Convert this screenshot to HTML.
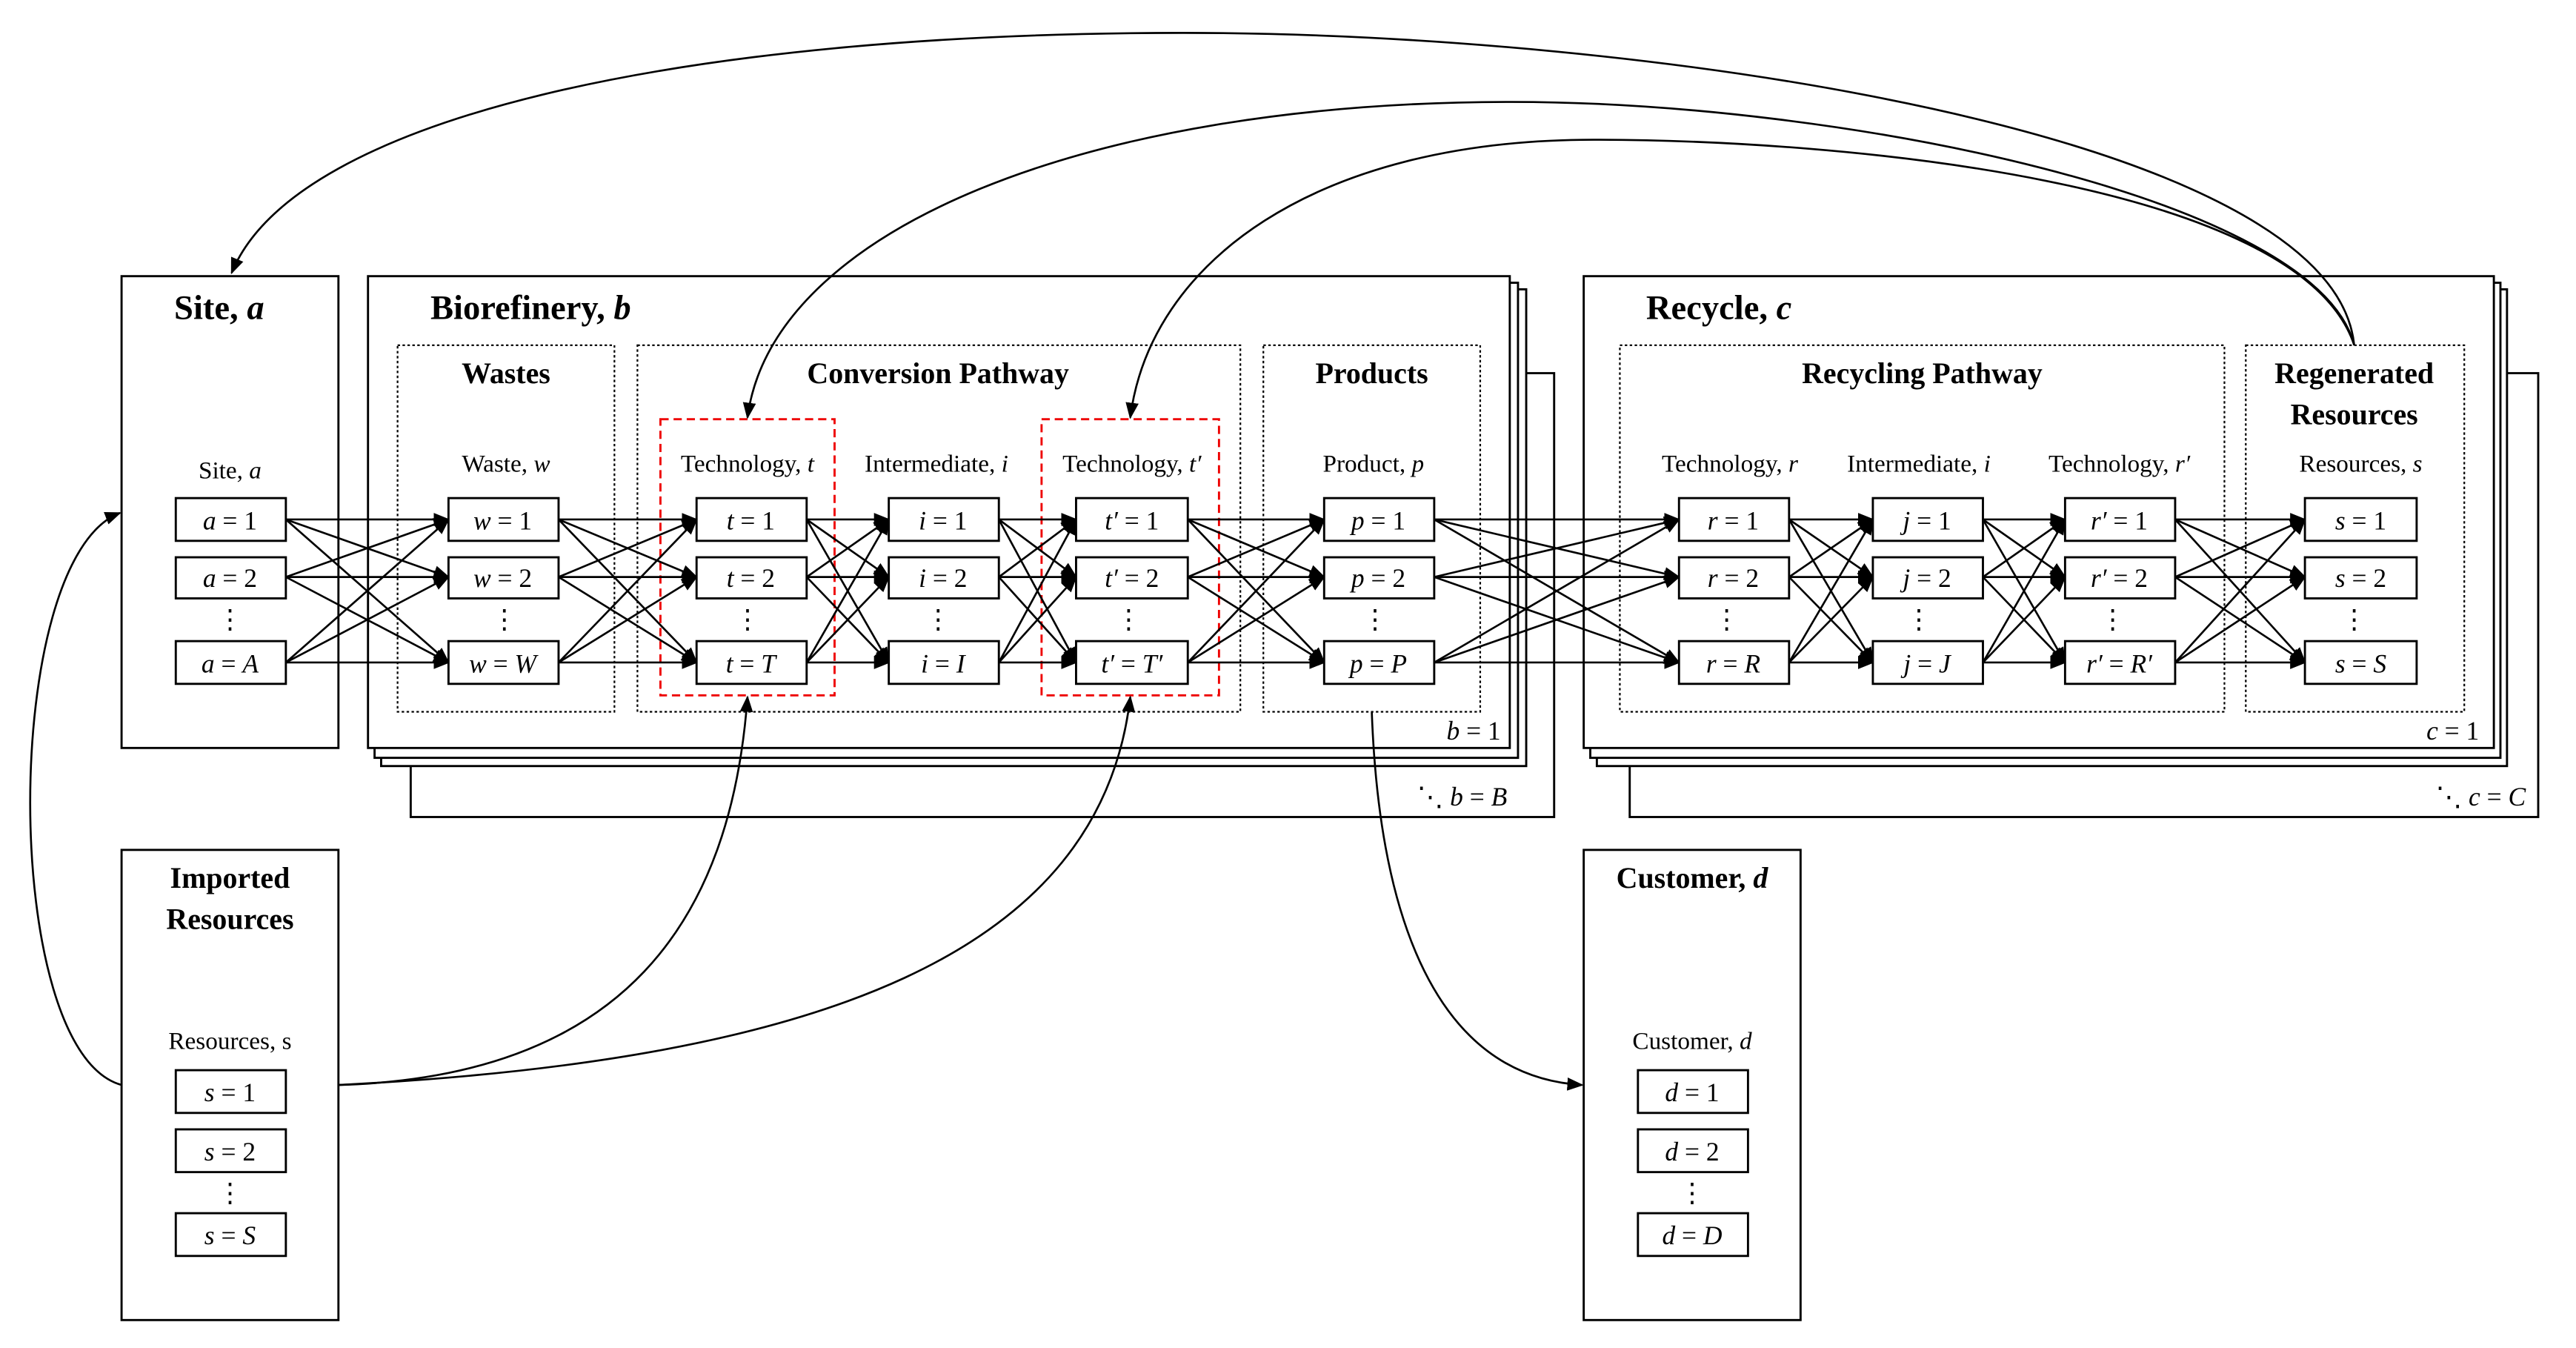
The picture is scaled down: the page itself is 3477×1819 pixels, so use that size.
<!DOCTYPE html>
<html><head><meta charset="utf-8"><style>
html,body{margin:0;padding:0;background:#fff;}
svg{display:block;}
text{font-family:"Liberation Serif",serif;fill:#000;}
.t{font-weight:bold;font-size:21px;}
.h{font-weight:bold;font-size:18px;text-anchor:middle;}
.l{font-size:15px;text-anchor:middle;}
.n{font-size:16px;text-anchor:middle;}
.i{font-style:italic;}
</style></head><body>
<svg width="3477" height="1819" viewBox="0 0 1568 820" preserveAspectRatio="none" xmlns="http://www.w3.org/2000/svg">
<defs>
<marker id="a" markerUnits="userSpaceOnUse" markerWidth="10" markerHeight="8" refX="9" refY="4" orient="auto"><path d="M0,0 L10,4 L0,8 z" fill="#000"/></marker>
</defs>
<g fill="#fff" stroke="#000" stroke-width="1.3">
<rect x="250" y="227" width="696" height="270"/>
<rect x="232" y="176" width="697" height="290"/>
<rect x="228" y="172" width="696" height="289"/>
<rect x="224" y="168" width="695" height="287"/>
<rect x="992" y="227" width="553" height="270"/>
<rect x="972" y="176" width="554" height="290"/>
<rect x="968" y="172" width="554" height="289"/>
<rect x="964" y="168" width="554" height="287"/>
<rect x="74" y="168" width="132" height="287"/>
<rect x="74" y="517" width="132" height="286"/>
<rect x="964" y="517" width="132" height="286"/>
</g>
<g fill="none" stroke="#000" stroke-width="1" stroke-dasharray="1.5,1.5">
<rect x="242" y="210" width="132" height="223"/>
<rect x="388" y="210" width="367" height="223"/>
<rect x="769" y="210" width="132" height="223"/>
<rect x="986" y="210" width="368" height="223"/>
<rect x="1367" y="210" width="133" height="223"/>
</g>
<g fill="none" stroke="#e00" stroke-width="1.3" stroke-dasharray="5,3">
<rect x="402" y="255" width="106" height="168"/>
<rect x="634" y="255" width="108" height="168"/>
</g>
<g stroke="#000" stroke-width="1.2" marker-end="url(#a)">
<line x1="174" y1="316" x2="273" y2="316"/><line x1="174" y1="316" x2="273" y2="351"/><line x1="174" y1="316" x2="273" y2="403"/>
<line x1="174" y1="351" x2="273" y2="316"/><line x1="174" y1="351" x2="273" y2="351"/><line x1="174" y1="351" x2="273" y2="403"/>
<line x1="174" y1="403" x2="273" y2="316"/><line x1="174" y1="403" x2="273" y2="351"/><line x1="174" y1="403" x2="273" y2="403"/>
<line x1="340" y1="316" x2="424" y2="316"/><line x1="340" y1="316" x2="424" y2="351"/><line x1="340" y1="316" x2="424" y2="403"/>
<line x1="340" y1="351" x2="424" y2="316"/><line x1="340" y1="351" x2="424" y2="351"/><line x1="340" y1="351" x2="424" y2="403"/>
<line x1="340" y1="403" x2="424" y2="316"/><line x1="340" y1="403" x2="424" y2="351"/><line x1="340" y1="403" x2="424" y2="403"/>
<line x1="491" y1="316" x2="541" y2="316"/><line x1="491" y1="316" x2="541" y2="351"/><line x1="491" y1="316" x2="541" y2="403"/>
<line x1="491" y1="351" x2="541" y2="316"/><line x1="491" y1="351" x2="541" y2="351"/><line x1="491" y1="351" x2="541" y2="403"/>
<line x1="491" y1="403" x2="541" y2="316"/><line x1="491" y1="403" x2="541" y2="351"/><line x1="491" y1="403" x2="541" y2="403"/>
<line x1="608" y1="316" x2="655" y2="316"/><line x1="608" y1="316" x2="655" y2="351"/><line x1="608" y1="316" x2="655" y2="403"/>
<line x1="608" y1="351" x2="655" y2="316"/><line x1="608" y1="351" x2="655" y2="351"/><line x1="608" y1="351" x2="655" y2="403"/>
<line x1="608" y1="403" x2="655" y2="316"/><line x1="608" y1="403" x2="655" y2="351"/><line x1="608" y1="403" x2="655" y2="403"/>
<line x1="723" y1="316" x2="806" y2="316"/><line x1="723" y1="316" x2="806" y2="351"/><line x1="723" y1="316" x2="806" y2="403"/>
<line x1="723" y1="351" x2="806" y2="316"/><line x1="723" y1="351" x2="806" y2="351"/><line x1="723" y1="351" x2="806" y2="403"/>
<line x1="723" y1="403" x2="806" y2="316"/><line x1="723" y1="403" x2="806" y2="351"/><line x1="723" y1="403" x2="806" y2="403"/>
<line x1="873" y1="316" x2="1022" y2="316"/><line x1="873" y1="316" x2="1022" y2="351"/><line x1="873" y1="316" x2="1022" y2="403"/>
<line x1="873" y1="351" x2="1022" y2="316"/><line x1="873" y1="351" x2="1022" y2="351"/><line x1="873" y1="351" x2="1022" y2="403"/>
<line x1="873" y1="403" x2="1022" y2="316"/><line x1="873" y1="403" x2="1022" y2="351"/><line x1="873" y1="403" x2="1022" y2="403"/>
<line x1="1089" y1="316" x2="1140" y2="316"/><line x1="1089" y1="316" x2="1140" y2="351"/><line x1="1089" y1="316" x2="1140" y2="403"/>
<line x1="1089" y1="351" x2="1140" y2="316"/><line x1="1089" y1="351" x2="1140" y2="351"/><line x1="1089" y1="351" x2="1140" y2="403"/>
<line x1="1089" y1="403" x2="1140" y2="316"/><line x1="1089" y1="403" x2="1140" y2="351"/><line x1="1089" y1="403" x2="1140" y2="403"/>
<line x1="1207" y1="316" x2="1257" y2="316"/><line x1="1207" y1="316" x2="1257" y2="351"/><line x1="1207" y1="316" x2="1257" y2="403"/>
<line x1="1207" y1="351" x2="1257" y2="316"/><line x1="1207" y1="351" x2="1257" y2="351"/><line x1="1207" y1="351" x2="1257" y2="403"/>
<line x1="1207" y1="403" x2="1257" y2="316"/><line x1="1207" y1="403" x2="1257" y2="351"/><line x1="1207" y1="403" x2="1257" y2="403"/>
<line x1="1324" y1="316" x2="1403" y2="316"/><line x1="1324" y1="316" x2="1403" y2="351"/><line x1="1324" y1="316" x2="1403" y2="403"/>
<line x1="1324" y1="351" x2="1403" y2="316"/><line x1="1324" y1="351" x2="1403" y2="351"/><line x1="1324" y1="351" x2="1403" y2="403"/>
<line x1="1324" y1="403" x2="1403" y2="316"/><line x1="1324" y1="403" x2="1403" y2="351"/><line x1="1324" y1="403" x2="1403" y2="403"/>
</g>
<g fill="none" stroke="#000" stroke-width="1.2">
<path d="M1433,210 C1420,80 1000,20 720,20 C420,20 180,70 141,166" marker-end="url(#a)"/>
<path d="M1433,210 C1410,120 1120,62 920,62 C660,62 470,140 455,254" marker-end="url(#a)"/>
<path d="M1433,210 C1400,110 1120,85 970,85 C800,85 700,160 688,254" marker-end="url(#a)"/>
<path d="M206,660 C380,655 445,560 455,424" marker-end="url(#a)"/>
<path d="M206,660 C500,645 670,580 688,424" marker-end="url(#a)"/>
<path d="M74,660 C0,640 0,340 73,312" marker-end="url(#a)"/>
<path d="M835,433 C840,570 880,655 963,660" marker-end="url(#a)"/>
</g>
<g fill="#fff" stroke="#000" stroke-width="1.3">
<rect x="107" y="303" width="67" height="26"/><rect x="107" y="339" width="67" height="25"/><rect x="107" y="390" width="67" height="26"/>
<rect x="273" y="303" width="67" height="26"/><rect x="273" y="339" width="67" height="25"/><rect x="273" y="390" width="67" height="26"/>
<rect x="424" y="303" width="67" height="26"/><rect x="424" y="339" width="67" height="25"/><rect x="424" y="390" width="67" height="26"/>
<rect x="541" y="303" width="67" height="26"/><rect x="541" y="339" width="67" height="25"/><rect x="541" y="390" width="67" height="26"/>
<rect x="655" y="303" width="68" height="26"/><rect x="655" y="339" width="68" height="25"/><rect x="655" y="390" width="68" height="26"/>
<rect x="806" y="303" width="67" height="26"/><rect x="806" y="339" width="67" height="25"/><rect x="806" y="390" width="67" height="26"/>
<rect x="1022" y="303" width="67" height="26"/><rect x="1022" y="339" width="67" height="25"/><rect x="1022" y="390" width="67" height="26"/>
<rect x="1140" y="303" width="67" height="26"/><rect x="1140" y="339" width="67" height="25"/><rect x="1140" y="390" width="67" height="26"/>
<rect x="1257" y="303" width="67" height="26"/><rect x="1257" y="339" width="67" height="25"/><rect x="1257" y="390" width="67" height="26"/>
<rect x="1403" y="303" width="68" height="26"/><rect x="1403" y="339" width="68" height="25"/><rect x="1403" y="390" width="68" height="26"/>
<rect x="107" y="651" width="67" height="26"/><rect x="107" y="687" width="67" height="26"/><rect x="107" y="738" width="67" height="26"/>
<rect x="997" y="651" width="67" height="26"/><rect x="997" y="687" width="67" height="26"/><rect x="997" y="738" width="67" height="26"/>
</g>
<text class="t" x="106" y="194">Site, <tspan class="i">a</tspan></text>
<text class="t" x="262" y="194">Biorefinery, <tspan class="i">b</tspan></text>
<text class="t" x="1002" y="194">Recycle, <tspan class="i">c</tspan></text>
<text class="h" x="140" y="540">Imported</text>
<text class="h" x="140" y="565">Resources</text>
<text class="h" x="1030" y="540">Customer, <tspan class="i">d</tspan></text>
<text class="h" x="308" y="233">Wastes</text>
<text class="h" x="571" y="233">Conversion Pathway</text>
<text class="h" x="835" y="233">Products</text>
<text class="h" x="1170" y="233">Recycling Pathway</text>
<text class="h" x="1433" y="233">Regenerated</text>
<text class="h" x="1433" y="258">Resources</text>
<text class="l" x="140" y="291">Site, <tspan class="i">a</tspan></text>
<text class="l" x="308" y="287">Waste, <tspan class="i">w</tspan></text>
<text class="l" x="455" y="287">Technology, <tspan class="i">t</tspan></text>
<text class="l" x="570" y="287">Intermediate, <tspan class="i">i</tspan></text>
<text class="l" x="689" y="287">Technology, <tspan class="i">t′</tspan></text>
<text class="l" x="836" y="287">Product, <tspan class="i">p</tspan></text>
<text class="l" x="1053" y="287">Technology, <tspan class="i">r</tspan></text>
<text class="l" x="1168" y="287">Intermediate, <tspan class="i">i</tspan></text>
<text class="l" x="1290" y="287">Technology, <tspan class="i">r′</tspan></text>
<text class="l" x="1437" y="287">Resources, <tspan class="i">s</tspan></text>
<text class="l" x="140" y="638">Resources, s</text>
<text class="l" x="1030" y="638">Customer, <tspan class="i">d</tspan></text>
<g class="n">
<text class="n" x="140" y="322"><tspan class="i">a</tspan> = 1</text><text class="n" x="140" y="357"><tspan class="i">a</tspan> = 2</text><text class="n" x="140" y="409"><tspan class="i">a</tspan> = <tspan class="i">A</tspan></text>
<text class="n" x="306" y="322"><tspan class="i">w</tspan> = 1</text><text class="n" x="306" y="357"><tspan class="i">w</tspan> = 2</text><text class="n" x="306" y="409"><tspan class="i">w</tspan> = <tspan class="i">W</tspan></text>
<text class="n" x="457" y="322"><tspan class="i">t</tspan> = 1</text><text class="n" x="457" y="357"><tspan class="i">t</tspan> = 2</text><text class="n" x="457" y="409"><tspan class="i">t</tspan> = <tspan class="i">T</tspan></text>
<text class="n" x="574" y="322"><tspan class="i">i</tspan> = 1</text><text class="n" x="574" y="357"><tspan class="i">i</tspan> = 2</text><text class="n" x="574" y="409"><tspan class="i">i</tspan> = <tspan class="i">I</tspan></text>
<text class="n" x="689" y="322"><tspan class="i">t′</tspan> = 1</text><text class="n" x="689" y="357"><tspan class="i">t′</tspan> = 2</text><text class="n" x="689" y="409"><tspan class="i">t′</tspan> = <tspan class="i">T′</tspan></text>
<text class="n" x="839" y="322"><tspan class="i">p</tspan> = 1</text><text class="n" x="839" y="357"><tspan class="i">p</tspan> = 2</text><text class="n" x="839" y="409"><tspan class="i">p</tspan> = <tspan class="i">P</tspan></text>
<text class="n" x="1055" y="322"><tspan class="i">r</tspan> = 1</text><text class="n" x="1055" y="357"><tspan class="i">r</tspan> = 2</text><text class="n" x="1055" y="409"><tspan class="i">r</tspan> = <tspan class="i">R</tspan></text>
<text class="n" x="1173" y="322"><tspan class="i">j</tspan> = 1</text><text class="n" x="1173" y="357"><tspan class="i">j</tspan> = 2</text><text class="n" x="1173" y="409"><tspan class="i">j</tspan> = <tspan class="i">J</tspan></text>
<text class="n" x="1290" y="322"><tspan class="i">r′</tspan> = 1</text><text class="n" x="1290" y="357"><tspan class="i">r′</tspan> = 2</text><text class="n" x="1290" y="409"><tspan class="i">r′</tspan> = <tspan class="i">R′</tspan></text>
<text class="n" x="1437" y="322"><tspan class="i">s</tspan> = 1</text><text class="n" x="1437" y="357"><tspan class="i">s</tspan> = 2</text><text class="n" x="1437" y="409"><tspan class="i">s</tspan> = <tspan class="i">S</tspan></text>
<text class="n" x="140" y="670"><tspan class="i">s</tspan> = 1</text><text class="n" x="140" y="706"><tspan class="i">s</tspan> = 2</text><text class="n" x="140" y="757"><tspan class="i">s</tspan> = <tspan class="i">S</tspan></text>
<text class="n" x="1030" y="670"><tspan class="i">d</tspan> = 1</text><text class="n" x="1030" y="706"><tspan class="i">d</tspan> = 2</text><text class="n" x="1030" y="757"><tspan class="i">d</tspan> = <tspan class="i">D</tspan></text>
</g>
<g class="n">
<text class="n" x="140" y="382">⋮</text><text class="n" x="307" y="382">⋮</text><text class="n" x="455" y="382">⋮</text>
<text class="n" x="571" y="382">⋮</text><text class="n" x="687" y="382">⋮</text><text class="n" x="837" y="382">⋮</text>
<text class="n" x="1051" y="382">⋮</text><text class="n" x="1168" y="382">⋮</text><text class="n" x="1286" y="382">⋮</text>
<text class="n" x="1433" y="382">⋮</text>
<text class="n" x="140" y="731">⋮</text><text class="n" x="1030" y="731">⋮</text>
</g>
<text class="n" x="897" y="450"><tspan class="i">b</tspan> = 1</text>
<text class="n" x="890" y="490">⋱ <tspan class="i">b</tspan> = <tspan class="i">B</tspan></text>
<text class="n" x="1493" y="450"><tspan class="i">c</tspan> = 1</text>
<text class="n" x="1510" y="490">⋱ <tspan class="i">c</tspan> = <tspan class="i">C</tspan></text>
</svg>
</body></html>
